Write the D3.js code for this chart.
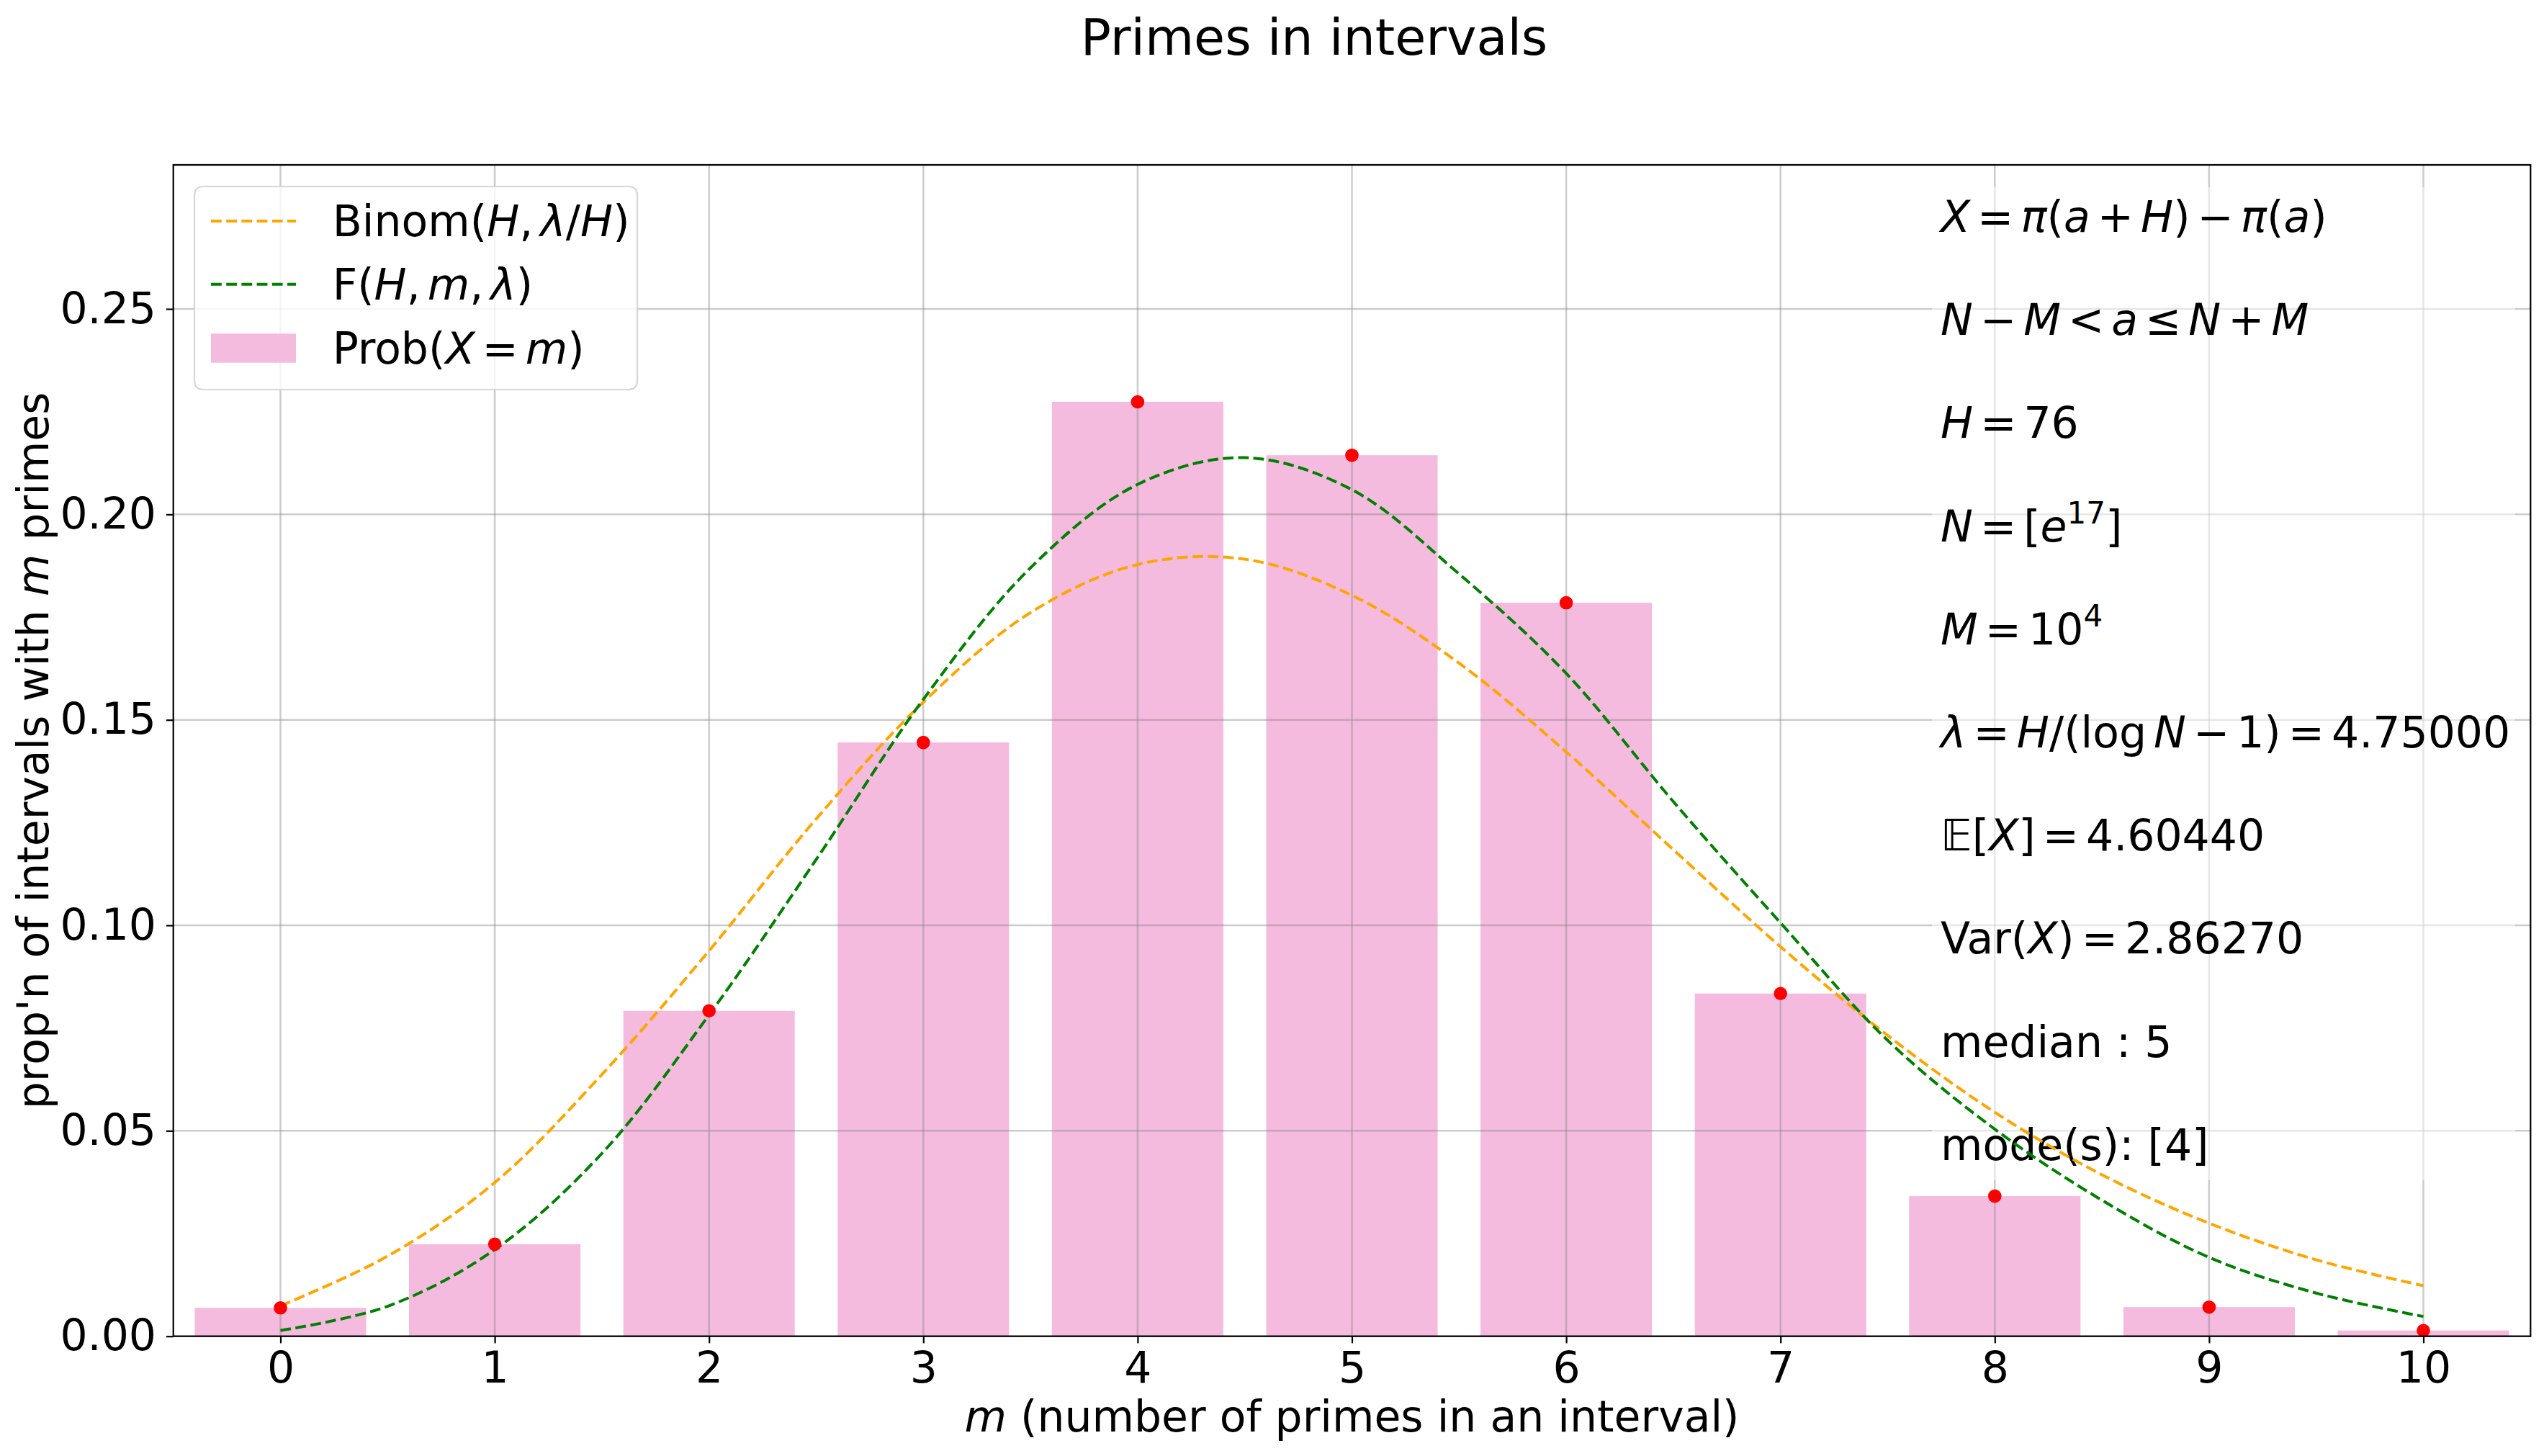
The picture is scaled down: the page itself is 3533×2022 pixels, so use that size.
<!DOCTYPE html>
<html>
<head>
<meta charset="utf-8">
<script src="https://cdn.jsdelivr.net/npm/d3@7"></script>
<style>
	body { margin: 0; background: #fff; }
	text { font-family: "DejaVu Sans", sans-serif; fill: #000; }
</style>
</head>
<body>
<script>
// number of primes in an interval
const mValues = [0, 1, 2, 3, 4, 5, 6, 7, 8, 9, 10];
// observed proportion of intervals with m primes
const probs   = [0.0069, 0.0224, 0.0792, 0.1445, 0.2274, 0.2144, 0.1785, 0.0834, 0.0341, 0.0071, 0.0014];

// continuous curves sampled every half step
const curveX     = [0, 0.5, 1, 1.5, 2, 2.5, 3, 3.5, 4, 4.5, 5, 5.5, 6, 6.5, 7, 7.5, 8, 8.5, 9, 9.5, 10];
const binomCurve = [0.0074, 0.0195, 0.0374, 0.0637, 0.0938, 0.1259, 0.1543, 0.1761, 0.1878, 0.1891, 0.1803,
                    0.1638, 0.1422, 0.1184, 0.0948, 0.0732, 0.0545, 0.0393, 0.0275, 0.0186, 0.0123];
const fCurve     = [0.0014, 0.0073, 0.0211, 0.0445, 0.0782, 0.1160, 0.1550, 0.1870, 0.2073, 0.2138, 0.2060,
                    0.1855, 0.1613, 0.1301, 0.1006, 0.0720, 0.0504, 0.0331, 0.0192, 0.0105, 0.0048];

const yTicks = [0, 0.05, 0.10, 0.15, 0.20, 0.25];
const xDomain = [-0.5, 10.5];
const yDomain = [0, 0.28505];

const titleText = "Primes in intervals";

// [string, style]  style: 'i' italic, 's' superscript; "\u2009" marks a math space
const legendItems = [
	{ name: "binom", color: "#ffa500", kind: "line",
	  parts: [["Binom("], ["H", "i"], [",\u2009"], ["λ", "i"], ["/"], ["H", "i"], [")"]] },
	{ name: "f", color: "#008000", kind: "line",
	  parts: [["F("], ["H", "i"], [",\u2009"], ["m", "i"], [",\u2009"], ["λ", "i"], [")"]] },
	{ name: "prob", color: "#f4bbde", kind: "bar",
	  parts: [["Prob("], ["X", "i"], ["\u2009=\u2009"], ["m", "i"], [")"]] },
];

const notes = [
	[["X", "i"], ["\u2009=\u2009"], ["π", "i"], ["("], ["a", "i"], ["\u2009+\u2009"], ["H", "i"], [")\u2009−\u2009"], ["π", "i"], ["("], ["a", "i"], [")"]],
	[["N", "i"], ["\u2009−\u2009"], ["M", "i"], ["\u2009<\u2009"], ["a", "i"], ["\u2009≤\u2009"], ["N", "i"], ["\u2009+\u2009"], ["M", "i"]],
	[["H", "i"], ["\u2009=\u200976"]],
	[["N", "i"], ["\u2009=\u2009["], ["e", "i"], ["17", "s"], ["]"]],
	[["M", "i"], ["\u2009=\u200910"], ["4", "s"]],
	[["λ", "i"], ["\u2009=\u2009"], ["H", "i"], ["/(log\u2009"], ["N", "i"], ["\u2009−\u20091)\u2009=\u20094.75000"]],
	[["𝔼["], ["X", "i"], ["]\u2009=\u20094.60440"]],
	[["Var("], ["X", "i"], [")\u2009=\u20092.86270"]],
	[["median : 5"]],
	[["mode(s): [4]"]],
];

const W = 3533, H = 2022;
const margins = { left: 240.7, right: 18.7, top: 229, bottom: 166.3 };
const FONT = 60;
const MATH_SPACE = 10;

const rich = (text, parts) => {
	let raised = false;
	let pending = 0;
	parts.forEach(([str, style]) => {
		const up = style === "s";
		str.split("\u2009").forEach((seg, k) => {
			if (k > 0) pending += MATH_SPACE;
			if (!seg) return;
			const ts = text.append("tspan").text(seg);
			if (style === "i") ts.attr("font-style", "italic");
			if (up) ts.attr("font-size", FONT * 0.7);
			if (up !== raised) { ts.attr("dy", up ? -25 : 25); raised = up; }
			if (pending) { ts.attr("dx", pending); pending = 0; }
		});
	});
	return text;
};

const svg = d3.select("body").append("svg")
	.attr("width", W)
	.attr("height", H)
	.attr("viewBox", `0 0 ${W} ${H}`);

svg.append("rect").attr("width", W).attr("height", H).attr("fill", "#fff");

const x = d3.scaleLinear().domain(xDomain).range([margins.left, W - margins.right]);
const y = d3.scaleLinear().domain(yDomain).range([H - margins.bottom, margins.top]);
const barW = x(0.8) - x(0);

const panes = {
	bars  : svg.append("g").attr("class", "bars"),
	grid  : svg.append("g").attr("class", "grid"),
	notes : svg.append("g").attr("class", "notes"),
	lines : svg.append("g").attr("class", "lines"),
	points: svg.append("g").attr("class", "points"),
	axis  : svg.append("g").attr("class", "axis"),
	legend: svg.append("g").attr("class", "legend"),
};

// bars
panes.bars.selectAll("rect")
	.data(mValues)
	.join("rect")
	.attr("x", d => x(d) - barW / 2)
	.attr("y", (d, i) => y(probs[i]))
	.attr("width", barW)
	.attr("height", (d, i) => y(0) - y(probs[i]))
	.attr("fill", "#f4bbde");

// grid
panes.grid.selectAll("line.v")
	.data(mValues)
	.join("line")
	.attr("class", "v")
	.attr("x1", d => x(d)).attr("x2", d => x(d))
	.attr("y1", y.range()[0]).attr("y2", y.range()[1]);

panes.grid.selectAll("line.h")
	.data(yTicks)
	.join("line")
	.attr("class", "h")
	.attr("x1", x.range()[0]).attr("x2", x.range()[1])
	.attr("y1", d => y(d)).attr("y2", d => y(d));

panes.grid.selectAll("line")
	.attr("stroke", "#808080")
	.attr("stroke-opacity", 0.4)
	.attr("stroke-width", 2.5);

// text block on the right
const noteX = 2695, noteY0 = 322, noteStep = 143.2;

panes.notes.append("rect")
	.attr("x", noteX - 12)
	.attr("y", noteY0 - 62)
	.attr("width", 810)
	.attr("height", noteStep * (notes.length - 1) + 90)
	.attr("fill", "#fff")
	.attr("fill-opacity", 0.5);

// curves
const line = d3.line()
	.curve(d3.curveCatmullRom)
	.x((d, i) => x(curveX[i]))
	.y(d => y(d));

[[binomCurve, "#ffa500"], [fCurve, "#008000"]].forEach(([vals, color]) => {
	panes.lines.append("path")
		.attr("d", line(vals))
		.attr("fill", "none")
		.attr("stroke", color)
		.attr("stroke-width", 4)
		.attr("stroke-dasharray", "14.8,6.4");
});

// observed points
panes.points.selectAll("circle")
	.data(mValues)
	.join("circle")
	.attr("cx", d => x(d))
	.attr("cy", (d, i) => y(probs[i]))
	.attr("r", 9.3)
	.attr("fill", "#ff0000");

notes.forEach((parts, i) => {
	rich(panes.notes.append("text")
		.attr("x", noteX)
		.attr("y", noteY0 + i * noteStep)
		.attr("font-size", FONT), parts);
});

// axes
const xAxis = panes.axis.append("g")
	.attr("transform", `translate(0,${y(0)})`)
	.call(d3.axisBottom(x).tickValues(mValues).tickSize(9.7).tickPadding(12).tickFormat(d3.format("d")));

const yAxis = panes.axis.append("g")
	.attr("transform", `translate(${x.range()[0]},0)`)
	.call(d3.axisLeft(y).tickValues(yTicks).tickSize(9.7).tickPadding(14).tickFormat(d3.format(".2f")));

[xAxis, yAxis].forEach(a => {
	a.select(".domain").remove();
	a.selectAll(".tick line").attr("stroke", "#000").attr("stroke-width", 2.2);
	a.selectAll(".tick text").attr("font-size", FONT).attr("font-family", "DejaVu Sans").attr("fill", "#000");
});

panes.axis.append("rect")
	.attr("x", x.range()[0])
	.attr("y", y.range()[1])
	.attr("width", x.range()[1] - x.range()[0])
	.attr("height", y.range()[0] - y.range()[1])
	.attr("fill", "none")
	.attr("stroke", "#000")
	.attr("stroke-width", 2.2);

// labels
rich(svg.append("text")
	.attr("x", (x.range()[0] + x.range()[1]) / 2)
	.attr("y", 1988)
	.attr("text-anchor", "middle")
	.attr("font-size", FONT),
	[["m", "i"], [" (number of primes in an interval)"]]);

rich(svg.append("text")
	.attr("transform", `translate(67,${(y.range()[0] + y.range()[1]) / 2}) rotate(-90)`)
	.attr("text-anchor", "middle")
	.attr("font-size", FONT),
	[["prop'n of intervals with "], ["m", "i"], [" primes"]]);

svg.append("text")
	.attr("x", 1825)
	.attr("y", 76)
	.attr("text-anchor", "middle")
	.attr("font-size", 70)
	.text(titleText);

// legend
panes.legend.append("rect")
	.attr("x", 270)
	.attr("y", 259)
	.attr("width", 615)
	.attr("height", 282)
	.attr("rx", 11)
	.attr("fill", "#fff")
	.attr("fill-opacity", 0.8)
	.attr("stroke", "#cccccc")
	.attr("stroke-opacity", 0.8)
	.attr("stroke-width", 2.2);

const legendRowY = [307, 394.7, 483.5];

legendItems.forEach((item, i) => {
	const g = panes.legend.append("g").attr("class", "legend-item legend-" + item.name);
	const cy = legendRowY[i];
	if (item.kind === "line") {
		g.append("line")
			.attr("x1", 293).attr("x2", 411)
			.attr("y1", cy).attr("y2", cy)
			.attr("stroke", item.color)
			.attr("stroke-width", 4)
			.attr("stroke-dasharray", "14.8,6.4");
	} else {
		g.append("rect")
			.attr("x", 293).attr("y", cy - 20.2)
			.attr("width", 118).attr("height", 40.4)
			.attr("fill", item.color);
	}
	rich(g.append("text")
		.attr("x", 461.7)
		.attr("y", cy + 21)
		.attr("font-size", FONT), item.parts);
});
</script>
</body>
</html>
